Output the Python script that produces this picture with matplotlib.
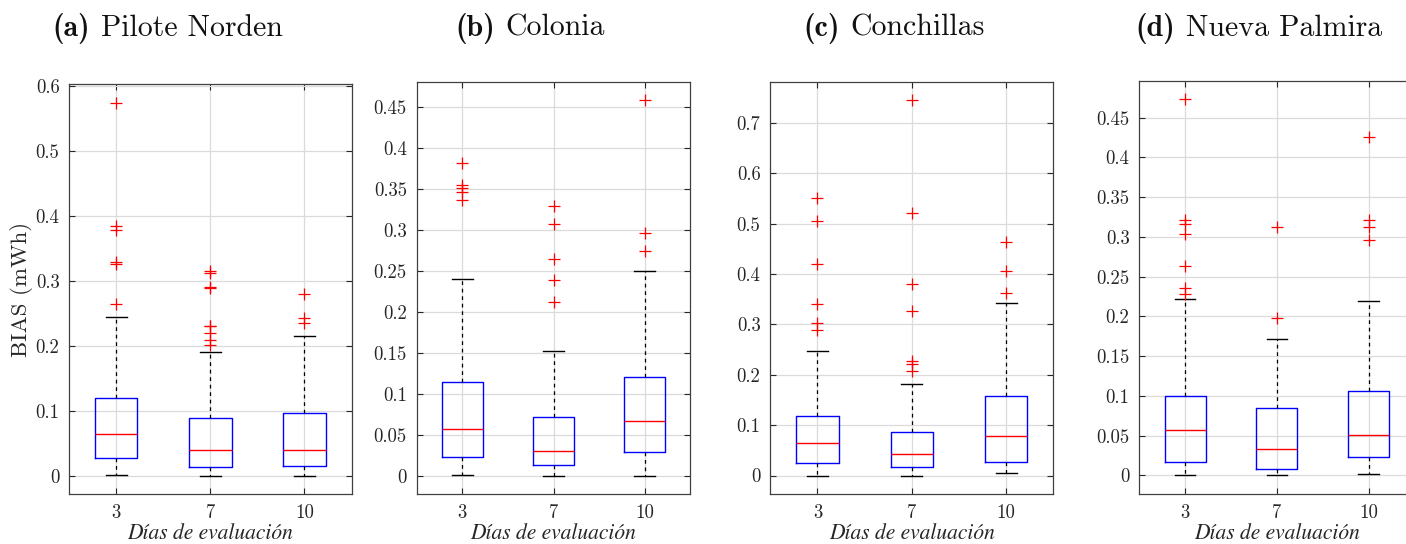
import matplotlib
matplotlib.use("Agg")
import matplotlib.pyplot as plt
from matplotlib.ticker import MultipleLocator, FuncFormatter

# ---- data (BIAS, mWh) ----
days = ["3", "7", "10"]
titles = ["(a)", "(b)", "(c)", "(d)"]
stations = ["Pilote Norden", "Colonia", "Conchillas", "Nueva Palmira"]

# Pilote Norden
pn_q1 = [0.0267, 0.0139, 0.0144]
pn_med = [0.0636, 0.0390, 0.0390]
pn_q3 = [0.1190, 0.0893, 0.0970]
pn_lo = [0.0006, 0.0, 0.0]
pn_hi = [0.2436, 0.1898, 0.2154]
pn_fliers = [
    [0.5739, 0.3842, 0.3790, 0.3292, 0.3257, 0.2636],
    [0.3154, 0.3114, 0.2900, 0.2883, 0.2308, 0.2298, 0.2200, 0.2083, 0.2010],
    [0.2795, 0.2426, 0.2354],
]

# Colonia
co_q1 = [0.0232, 0.0130, 0.0289]
co_med = [0.0566, 0.0301, 0.0671]
co_q3 = [0.1139, 0.0712, 0.1204]
co_lo = [0.0010, 0.0, 0.0]
co_hi = [0.2402, 0.1517, 0.2500]
co_fliers = [
    [0.3810, 0.3541, 0.3509, 0.3456, 0.3358],
    [0.3293, 0.3073, 0.2646, 0.2383, 0.2118],
    [0.4578, 0.2960, 0.2744],
]

# Conchillas
cn_q1 = [0.0254, 0.0163, 0.0262]
cn_med = [0.0639, 0.0433, 0.0790]
cn_q3 = [0.1175, 0.0857, 0.1570]
cn_lo = [0.0, 0.0, 0.0050]
cn_hi = [0.2470, 0.1810, 0.3420]
cn_fliers = [
    [0.5500, 0.5056, 0.4196, 0.3403, 0.3032, 0.2880],
    [0.7445, 0.5214, 0.3806, 0.3264, 0.2278, 0.2220, 0.2079],
    [0.4633, 0.4052, 0.3628],
]

# Nueva Palmira
np_q1 = [0.0171, 0.0084, 0.0226]
np_med = [0.0574, 0.0335, 0.0503]
np_q3 = [0.0998, 0.0843, 0.1065]
np_lo = [0.0, 0.0, 0.0017]
np_hi = [0.2218, 0.1720, 0.2189]
np_fliers = [
    [0.4730, 0.3215, 0.3157, 0.3040, 0.2637, 0.2360, 0.2277],
    [0.3128, 0.1980],
    [0.4260, 0.3211, 0.3120, 0.2956],
]

# ---- layout (pixels of the 1406x544 reference) ----
W, H = 1406, 544
# left, right, top, bottom of each axes
boxes_px = [
    (69.3, 351.5, 84.0, 494.3),
    (416.7, 690.3, 82.0, 494.3),
    (770.3, 1053.3, 82.0, 494.3),
    (1139.3, 1414.4, 80.7, 494.3),
]
ylims = [(-0.0286, 0.603), (-0.0227, 0.480), (-0.0373, 0.781), (-0.0239, 0.4964)]
ysteps = [0.1, 0.05, 0.1, 0.05]
title_left = [52, 455, 803, 1135]

plt.rcParams["font.family"] = ["cmr10", "DejaVu Serif"]
plt.rcParams["axes.formatter.use_mathtext"] = True

TXT = "#262626"
GRID = "#dbdbdb"


def make_stats(q1, med, q3, lo, hi, fliers):
    """Build the per-box dicts that Axes.bxp expects."""
    return [
        dict(q1=q1[i], med=med[i], q3=q3[i], whislo=lo[i], whishi=hi[i],
             fliers=fliers[i], label=days[i])
        for i in range(len(days))
    ]


def draw_panel(ax, stats, ylim, step):
    ax.bxp(
        stats, positions=[1, 2, 3], widths=0.45, capwidths=0.225,
        boxprops=dict(color="#0000ff", linewidth=1.0),
        medianprops=dict(color="#ff0000", linewidth=1.0),
        whiskerprops=dict(color="black", linewidth=0.9, linestyle=(0, (3, 3))),
        capprops=dict(color="black", linewidth=1.0),
        flierprops=dict(marker="+", markeredgecolor="#ff0000", markersize=9,
                        markeredgewidth=0.9, linestyle="none"),
        zorder=3,
    )
    ax.set_xlim(0.5, 3.5)
    ax.set_ylim(*ylim)
    ax.yaxis.set_major_locator(MultipleLocator(step))
    ax.yaxis.set_major_formatter(FuncFormatter(lambda v, p: "%g" % round(v, 4)))
    ax.grid(True, color=GRID, linewidth=0.9, zorder=0)
    ax.set_axisbelow(True)
    ax.tick_params(direction="in", length=4, width=0.8, colors=TXT,
                   top=True, right=True, labelsize=13.5, pad=7)
    for sp in ax.spines.values():
        sp.set_color("#404040")
        sp.set_linewidth(0.9)
    ax.set_xlabel("Días de evaluación", fontsize=15.5, color=TXT,
                  family="STIXGeneral", style="italic", labelpad=1)


def main():
    fig = plt.figure(figsize=(W / 100, H / 100), dpi=100)
    all_stats = [
        make_stats(pn_q1, pn_med, pn_q3, pn_lo, pn_hi, pn_fliers),
        make_stats(co_q1, co_med, co_q3, co_lo, co_hi, co_fliers),
        make_stats(cn_q1, cn_med, cn_q3, cn_lo, cn_hi, cn_fliers),
        make_stats(np_q1, np_med, np_q3, np_lo, np_hi, np_fliers),
    ]
    heads = []
    for i, (l, r, t, b) in enumerate(boxes_px):
        ax = fig.add_axes([l / W, 1 - b / H, (r - l) / W, (b - t) / H])
        draw_panel(ax, all_stats[i], ylims[i], ysteps[i])
        if i == 0:
            ax.set_ylabel("BIAS (mWh)", fontsize=16.5, color=TXT, labelpad=2)
        heads.append(fig.text(title_left[i] / W, 1 - 28 / H, titles[i],
                              family="cmb10", fontsize=21.5, color="#111111",
                              ha="left", va="center"))

    # station name goes right after the bold panel letter
    fig.canvas.draw()
    renderer = fig.canvas.get_renderer()
    for i, h in enumerate(heads):
        x1 = h.get_window_extent(renderer).x1
        fig.text((x1 + 11) / W, 1 - 28 / H, stations[i],
                 family=["cmr10", "DejaVu Serif"], fontsize=21.5,
                 color="#111111", ha="left", va="center")
    fig.savefig("out.png", dpi=100)


if __name__ == "__main__":
    main()
